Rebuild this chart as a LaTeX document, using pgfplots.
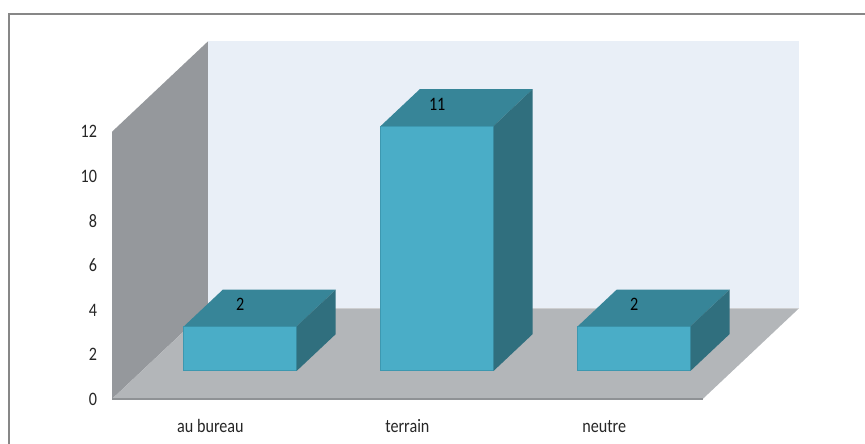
\documentclass[border=0pt]{standalone}
\usepackage{pgfplots}
\pgfplotsset{compat=1.18}
\usepackage{fontspec}
\setmainfont{Carlito}[FakeStretch=0.85]
\definecolor{leftwall}{HTML}{95989C}
\definecolor{backwall}{HTML}{E9EFF7}
\definecolor{floorc}{HTML}{B3B6B9}
\definecolor{flooredge}{HTML}{8F9295}
\definecolor{barfront}{HTML}{4AADC7}
\definecolor{barfrontedge}{HTML}{3D98B0}
\definecolor{bartop}{HTML}{378598}
\definecolor{barside}{HTML}{306F7E}
\definecolor{framec}{HTML}{878787}
\newcommand{\lblfont}{\fontsize{19bp}{21bp}\selectfont}
\begin{document}
\begin{tikzpicture}
\useasboundingbox (-112bp,-45bp) rectangle (753bp,399bp);
% outer frame (top and left edges visible)
\draw[framec, line width=2bp] (-102.5bp,-46bp) -- (-102.5bp,385bp) -- (754bp,385bp);
% 3D chart
\begin{axis}[
  at={(0,0)}, anchor=origin,
  x={(196.9bp,0bp)}, y={(96.3bp,90.7bp)}, z={(0bp,22.27bp)},
  xmin=0, xmax=3, ymin=0, ymax=1, zmin=0, zmax=12,
  hide axis, clip=false,
]
% walls and floor
\addplot3[fill=leftwall, draw=none] coordinates {(0,0,0) (0,1,0) (0,1,12) (0,0,12)} -- cycle;
\addplot3[fill=backwall, draw=none] coordinates {(0,1,0) (3,1,0) (3,1,12) (0,1,12)} -- cycle;
\addplot3[fill=floorc, draw=none] coordinates {(0,0,0) (3,0,0) (3,1,0) (0,1,0)} -- cycle;
\addplot3[draw=flooredge, line width=1.5bp] coordinates {(0,0,0) (3,0,0)};
% bar: au bureau = 2
\addplot3[fill=barfront, draw=barfrontedge, line width=0.8bp] coordinates {(0.2135,0.31,0) (0.7865,0.31,0) (0.7865,0.31,2) (0.2135,0.31,2)} -- cycle;
\addplot3[fill=bartop, draw=none] coordinates {(0.2135,0.31,2) (0.7865,0.31,2) (0.7865,0.715,2) (0.2135,0.715,2)} -- cycle;
\addplot3[fill=barside, draw=none] coordinates {(0.7865,0.31,0) (0.7865,0.715,0) (0.7865,0.715,2) (0.7865,0.31,2)} -- cycle;
% bar: terrain = 11
\addplot3[fill=barfront, draw=barfrontedge, line width=0.8bp] coordinates {(1.2135,0.31,0) (1.7865,0.31,0) (1.7865,0.31,11) (1.2135,0.31,11)} -- cycle;
\addplot3[fill=bartop, draw=none] coordinates {(1.2135,0.31,11) (1.7865,0.31,11) (1.7865,0.715,11) (1.2135,0.715,11)} -- cycle;
\addplot3[fill=barside, draw=none] coordinates {(1.7865,0.31,0) (1.7865,0.715,0) (1.7865,0.715,11) (1.7865,0.31,11)} -- cycle;
% bar: neutre = 2
\addplot3[fill=barfront, draw=barfrontedge, line width=0.8bp] coordinates {(2.2135,0.31,0) (2.7865,0.31,0) (2.7865,0.31,2) (2.2135,0.31,2)} -- cycle;
\addplot3[fill=bartop, draw=none] coordinates {(2.2135,0.31,2) (2.7865,0.31,2) (2.7865,0.715,2) (2.2135,0.715,2)} -- cycle;
\addplot3[fill=barside, draw=none] coordinates {(2.7865,0.31,0) (2.7865,0.715,0) (2.7865,0.715,2) (2.7865,0.31,2)} -- cycle;
% value labels
\node[font=\lblfont, text=black, inner sep=0pt, yshift=21.6bp] at (axis cs:0.5,0.31,2) {2};
\node[font=\lblfont, text=black, inner sep=0pt, yshift=21.6bp] at (axis cs:1.5,0.31,11) {11};
\node[font=\lblfont, text=black, inner sep=0pt, yshift=21.6bp] at (axis cs:2.5,0.31,2) {2};
\end{axis}
% tick labels on the front plane
\begin{axis}[
  at={(0,0)}, anchor=origin,
  x={(196.9bp,0bp)}, y={(0bp,22.27bp)},
  xmin=0, xmax=3, ymin=0, ymax=12,
  axis line style={draw=none}, tick style={draw=none}, major tick length=0pt,
  ytick={0,2,4,6,8,10,12},
  xtick={0.5,1.5,2.5}, xticklabels={au bureau,terrain,neutre},
  /pgf/number format/assume math mode=true,
  tick label style={font=\lblfont, text=black!85},
  yticklabel style={anchor=east, inner sep=0pt, xshift=-14.7bp},
  xticklabel style={anchor=base, inner sep=0pt, yshift=-33bp},
]
\addplot[draw=none] coordinates {(0,0)};
\end{axis}
\end{tikzpicture}
\end{document}
